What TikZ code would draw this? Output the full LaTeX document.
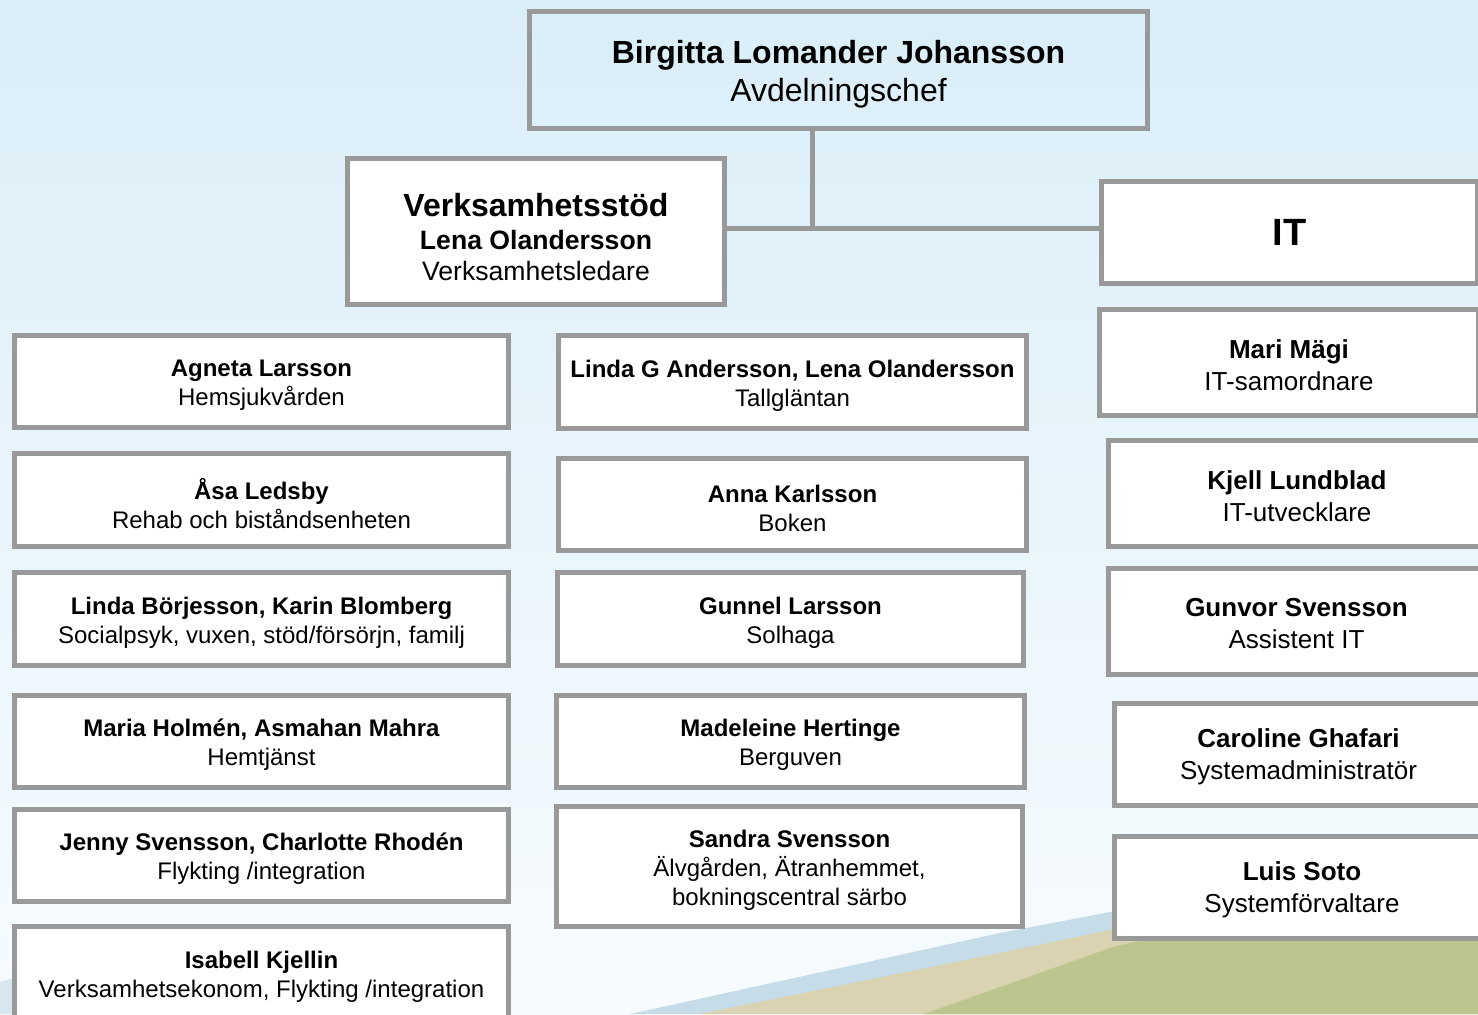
\documentclass[tikz,border=0pt]{standalone}
\usepackage{fontspec}
\setmainfont{Liberation Sans}
\definecolor{boxgray}{RGB}{153,153,153}
\definecolor{skytop}{RGB}{218,238,248}
\definecolor{skymid}{RGB}{233,245,251}
\definecolor{skybot}{RGB}{247,251,254}
\definecolor{hillgreen}{RGB}{188,197,142}
\definecolor{sandtan}{RGB}{217,211,178}
\definecolor{riverblue}{RGB}{198,220,232}
\begin{document}
\begin{tikzpicture}[x=0.5pt,y=-0.5pt,
  box/.style={draw=boxgray, line width=2.5pt, fill=white, rectangle, inner sep=0pt},
  txt/.style={align=center, text=black, inner sep=0pt},
  small/.style={txt, font=\fontsize{12}{14.5}\selectfont, yshift=-1.75pt},
  big/.style={txt, font=\fontsize{13}{16}\selectfont, yshift=-1.25pt},
  conn/.style={draw=boxgray, line width=2.5pt}]

\useasboundingbox (0,0) rectangle (1478,1014);
\clip (0,0) rectangle (1478,1014);
% background sky
\shade[top color=skytop, bottom color=skybot, middle color=skymid] (0,0) rectangle (1478,1014);
% landscape
\fill[riverblue] (630,1014) -- (1000,933) -- (1110,912) -- (1478,860) -- (1478,1014) -- cycle;
\fill[sandtan] (700,1014) -- (1000,953) -- (1110,930) -- (1478,875) -- (1478,1014) -- cycle;
\fill[hillgreen] (924,1014) -- (1113,947) -- (1478,860) -- (1478,1014) -- cycle;
\fill[riverblue!70!white] (0,982) -- (14,978) -- (14,1014) -- (0,1014) -- cycle;

% top level
\node[box, fill=none, minimum width=309pt, minimum height=58.5pt] (top) at (838.5,70) {};
\node[txt, font=\fontsize{16}{19}\selectfont, yshift=-2pt] (topt) at (top.center)
  {\textbf{Birgitta Lomander Johansson}\\Avdelningschef};
\node[box, minimum width=188.5pt, minimum height=73pt] (verks) at (536,231.5) {};
\node[txt, font=\fontsize{13.3}{15.5}\selectfont, yshift=-3pt] (verkst) at (verks.center)
  {{\fontsize{16}{19}\selectfont\textbf{Verksamhetsstöd}}\\[1pt]\textbf{Lena Olandersson}\\Verksamhetsledare};
\node[box, minimum width=188pt, minimum height=51pt] (it) at (1289.5,232.5) {};
\node[txt, font=\fontsize{19}{22}\selectfont\bfseries] (itt) at (it.center) {IT};

% left column
\node[box, minimum width=247pt, minimum height=46pt] (l1) at (261.5,381.5) {};
\node[small] (l1t) at (l1.center) {\textbf{Agneta Larsson}\\Hemsjukvården};
\node[box, minimum width=247pt, minimum height=46.5pt] (l2) at (261.5,500) {};
\node[small] (l2t) at (l2.center) {\textbf{Åsa Ledsby}\\Rehab och biståndsenheten};
\node[box, minimum width=247pt, minimum height=46.5pt] (l3) at (261.5,619) {};
\node[small] (l3t) at (l3.center) {\textbf{Linda Börjesson, Karin Blomberg}\\Socialpsyk, vuxen, stöd/försörjn, familj};
\node[box, minimum width=247pt, minimum height=46pt] (l4) at (261.5,741.5) {};
\node[small] (l4t) at (l4.center) {\textbf{Maria Holmén, Asmahan Mahra}\\Hemtjänst};
\node[box, minimum width=247pt, minimum height=46pt] (l5) at (261.5,855.5) {};
\node[small] (l5t) at (l5.center) {\textbf{Jenny Svensson, Charlotte Rhodén}\\Flykting /integration};
\node[box, minimum width=247pt, minimum height=46.5pt] (l6) at (261.5,973) {};
\node[small] (l6t) at (l6.center) {\textbf{Isabell Kjellin}\\Verksamhetsekonom, Flykting /integration};

% middle column
\node[box, minimum width=234pt, minimum height=46.5pt] (m1) at (792.5,382) {};
\node[small] (m1t) at (m1.center) {\textbf{Linda G Andersson, Lena Olandersson}\\Tallgläntan};
\node[box, minimum width=234pt, minimum height=46pt] (m2) at (792.5,504.5) {};
\node[small] (m2t) at (m2.center) {\textbf{Anna Karlsson}\\Boken};
\node[box, minimum width=233pt, minimum height=46.5pt] (m3) at (790.5,619) {};
\node[small] (m3t) at (m3.center) {\textbf{Gunnel Larsson}\\Solhaga};
\node[box, minimum width=234pt, minimum height=46pt] (m4) at (790.5,741.5) {};
\node[small] (m4t) at (m4.center) {\textbf{Madeleine Hertinge}\\Berguven};
\node[box, minimum width=233pt, minimum height=60pt] (m5) at (789.5,866.5) {};
\node[small] (m5t) at (m5.center) {\textbf{Sandra Svensson}\\Älvgården, Ätranhemmet,\\bokningscentral särbo};

% right column (IT)
\node[box, minimum width=189.5pt, minimum height=53pt] (r1) at (1289,362.5) {};
\node[big] (r1t) at (r1.center) {\textbf{Mari Mägi}\\IT-samordnare};
\node[box, minimum width=188.5pt, minimum height=53pt] (r2) at (1297,493.5) {};
\node[big] (r2t) at (r2.center) {\textbf{Kjell Lundblad}\\IT-utvecklare};
\node[box, minimum width=188.5pt, minimum height=53pt] (r3) at (1296.5,621.5) {};
\node[big] (r3t) at (r3.center) {\textbf{Gunvor Svensson}\\Assistent IT};
\node[box, minimum width=184pt, minimum height=51pt] (r4) at (1298.5,754.5) {};
\node[big] (r4t) at (r4.center) {\textbf{Caroline Ghafari}\\Systemadministratör};
\node[box, minimum width=187.5pt, minimum height=51pt] (r5) at (1302,887.5) {};
\node[big] (r5t) at (r5.center) {\textbf{Luis Soto}\\Systemförvaltare};

% connectors
\coordinate (j) at (812,228);
\draw[conn] (top.south -| j) -- (j);
\draw[conn] (verks.east |- j) -- (it.west |- j);
\end{tikzpicture}
\end{document}
